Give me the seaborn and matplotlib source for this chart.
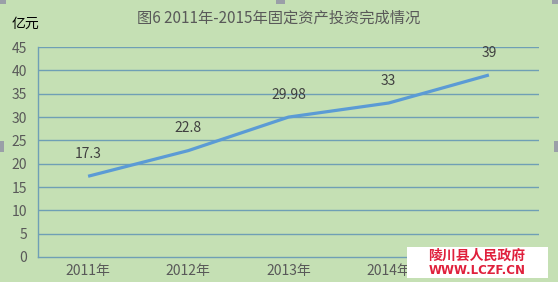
import matplotlib
matplotlib.use("Agg")
import matplotlib.pyplot as plt
from matplotlib.patches import Rectangle
import seaborn as sns
import pandas as pd

years = ["2011年", "2012年", "2013年", "2014年", "2015年"]
values = [17.3, 22.8, 29.98, 33, 39]
value_labels = ["17.3", "22.8", "29.98", "33", "39"]
yticks = [0, 5, 10, 15, 20, 25, 30, 35, 40, 45]
title = "图6 2011年-2015年固定资产投资完成情况"
unit = "亿元"
wm1 = "陵川县人民政府"
wm2 = "WWW.LCZF.CN"

sns.set_theme(style="white")
plt.rcParams['font.family'] = ['Noto Sans CJK SC', 'DejaVu Sans']

bg = "#C5E0B4"
grid_c = "#6F9FB5"
line_c = "#5B9BD5"
txt_c = "#595959"

W, H = 558, 282
fig = plt.figure(figsize=(W / 100, H / 100), dpi=100, facecolor=bg)
ax = fig.add_axes([38 / W, 1 - 257 / H, (539 - 38) / W, (257 - 47) / H])
ax.set_facecolor(bg)

df = pd.DataFrame({"year": years, "value": values})
sns.lineplot(data=df, x="year", y="value", ax=ax, color=line_c, linewidth=2.3,
             sort=False, solid_capstyle="butt")

ax.set_xlim(-0.5, len(years) - 0.5)
ax.set_ylim(0, 45)
ax.set_yticks(yticks)
ax.set_yticklabels([str(t) for t in yticks], color=txt_c, fontsize=10)
ax.set_xticks(range(len(years)))
ax.set_xticklabels(years, color=txt_c, fontsize=10)
ax.set_xlabel("")
ax.set_ylabel("")
ax.tick_params(axis="x", length=0, pad=5)
ax.tick_params(axis="y", length=0, pad=8)
# minor ticks between categories on the x axis, pointing inward
ax.set_xticks([i + 0.5 for i in range(len(years) - 1)], minor=True)
ax.tick_params(axis="x", which="minor", direction="in", length=3, color=grid_c, width=1)

for t in yticks[1:]:
    ax.axhline(t, color=grid_c, linewidth=1, zorder=0)

for s in ["top", "right"]:
    ax.spines[s].set_visible(False)
for s in ["left", "bottom"]:
    ax.spines[s].set_color(grid_c)
    ax.spines[s].set_linewidth(1)

for i, (v, lab) in enumerate(zip(values, value_labels)):
    ax.annotate(lab, (i, v), xytext=(0, 11), textcoords="offset points",
                ha="center", va="bottom", fontsize=10, color="#404040")

fig.text(279 / W, 1 - 18 / H, title, ha="center", va="center", fontsize=11, color=txt_c)
fig.text(12 / W, 1 - 24 / H, unit, ha="left", va="center", fontsize=10, color="black")

# watermark box
fig.patches.append(Rectangle((407 / W, 1 - 278 / H), (548 - 407) / W, (278 - 247) / H,
                             transform=fig.transFigure, facecolor="white", edgecolor="none", zorder=5))
fig.text(477 / W, 1 - 256 / H, wm1, ha="center", va="center", fontsize=10, color="#E0203C",
         fontweight="bold", zorder=6)
fig.text(477 / W, 1 - 270 / H, wm2, ha="center", va="center", fontsize=8.5, color="#E0203C",
         fontweight="bold", zorder=6, family=["DejaVu Sans"])

# selection handles
for (x0, y0, w, h) in [(0, 0, 6, 4), (276, 0, 9, 4), (552, 0, 6, 4), (0, 141, 4, 11), (554, 141, 4, 11)]:
    fig.patches.append(Rectangle((x0 / W, 1 - (y0 + h) / H), w / W, h / H,
                                 transform=fig.transFigure, facecolor="#9A9FA8", edgecolor="none", zorder=7))

fig.savefig("out.png", dpi=100, facecolor=bg)
